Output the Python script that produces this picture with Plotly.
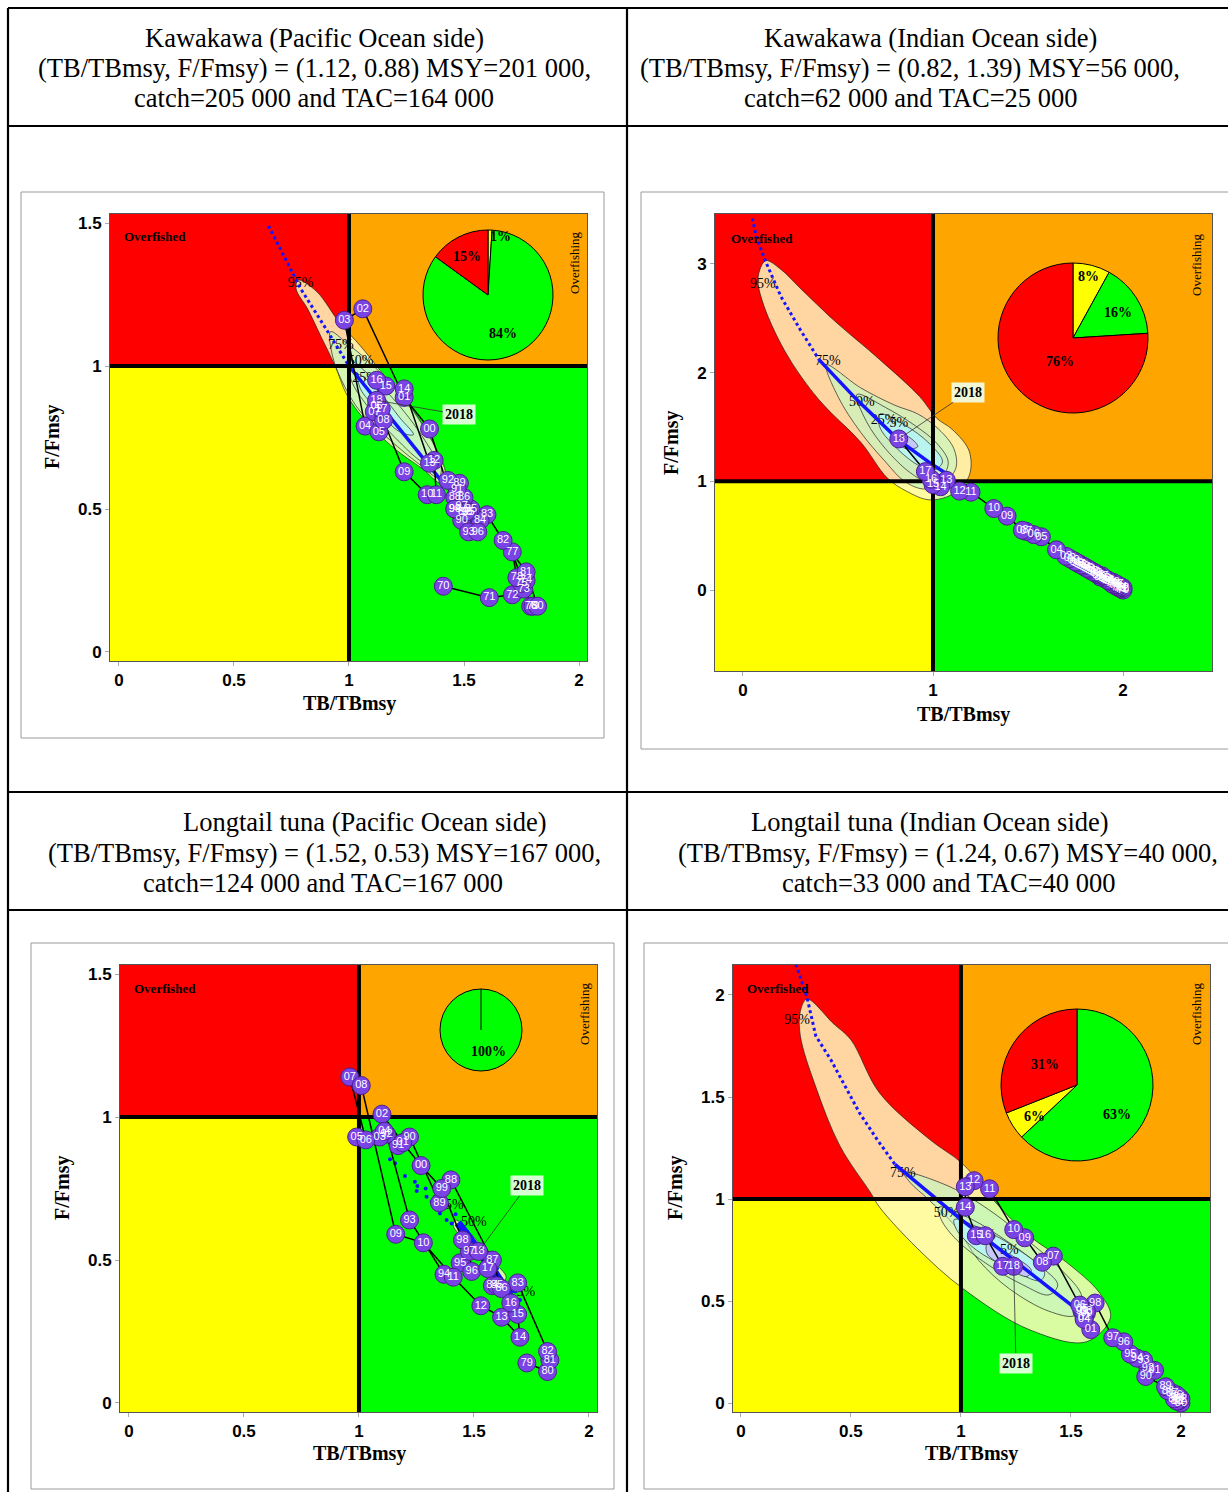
import plotly.graph_objects as go

W, H = 1228, 1492

# ---------------------------------------------------------------- data
# Kawakawa, Pacific Ocean side
P1_TITLE = ["Kawakawa (Pacific Ocean side)",
            "(TB/TBmsy, F/Fmsy) = (1.12, 0.88) MSY=201 000,",
            "catch=205 000 and TAC=164 000"]
P1_YEARS = list(range(1970, 2019))
P1_TB = [1.41, 1.61, 1.71, 1.76, 1.77, 1.75, 1.79, 1.71, 1.73, 1.80,
         1.82, 1.77, 1.67, 1.60, 1.57, 1.53, 1.50, 1.50, 1.46, 1.48,
         1.49, 1.47, 1.43, 1.52, 1.46, 1.52, 1.56, 1.49, 1.51, 1.46,
         1.35, 1.24, 1.06, 0.98, 1.07, 1.13, 1.12, 1.11, 1.15, 1.24,
         1.34, 1.38, 1.37, 1.35, 1.24, 1.16, 1.12, 1.14, 1.12]
P1_F = [0.23, 0.19, 0.20, 0.22, 0.25, 0.24, 0.16, 0.35, 0.26, 0.16,
        0.16, 0.28, 0.39, 0.48, 0.46, 0.50, 0.54, 0.49, 0.54, 0.59,
        0.46, 0.57, 0.60, 0.42, 0.50, 0.49, 0.42, 0.51, 0.49, 0.50,
        0.78, 0.89, 1.20, 1.16, 0.79, 0.77, 0.86, 0.84, 0.81, 0.63,
        0.55, 0.55, 0.67, 0.66, 0.92, 0.93, 0.95, 0.85, 0.88]
P1_PROJ_DOT = [(0.65, 1.49), (0.72, 1.38), (0.79, 1.27), (0.90, 1.13), (1.00, 1.00)]
P1_PROJ_LINE = [(1.00, 1.00), (1.20, 0.80), (1.40, 0.60)]
P1_PIE = [1, 84, 15]
P1_C95 = [(0.78, 1.30), (0.86, 1.26), (0.96, 1.15), (1.05, 1.07), (1.13, 0.99), (1.25, 0.87),
          (1.36, 0.74), (1.42, 0.62), (1.40, 0.59), (1.32, 0.64), (1.20, 0.71), (1.06, 0.82),
          (0.99, 0.90), (0.94, 1.00), (0.88, 1.10), (0.82, 1.20), (0.77, 1.27)]
P1_C75 = [(0.92, 1.12), (0.99, 1.08), (1.08, 1.02), (1.18, 0.94), (1.30, 0.82), (1.40, 0.66),
          (1.39, 0.61), (1.30, 0.66), (1.18, 0.74), (1.05, 0.84), (0.98, 0.93), (0.93, 1.03)]
P1_C50 = [(1.00, 1.02), (1.10, 0.96), (1.22, 0.86), (1.33, 0.74), (1.38, 0.66), (1.33, 0.66),
          (1.20, 0.75), (1.08, 0.86), (1.01, 0.95)]
P1_C25 = [(1.04, 0.97), (1.12, 0.92), (1.22, 0.82), (1.28, 0.76), (1.22, 0.77), (1.12, 0.85),
          (1.05, 0.92)]
P1_C05 = [(1.10, 0.90), (1.16, 0.86), (1.14, 0.84), (1.09, 0.88)]
P1_CLAB = [("95%", 0.79, 1.29), ("75%", 0.965, 1.07), ("50%", 1.05, 1.015), ("25%", 1.07, 0.958)]

# Kawakawa, Indian Ocean side
P2_TITLE = ["Kawakawa (Indian Ocean side)",
            "(TB/TBmsy, F/Fmsy) = (0.82, 1.39) MSY=56 000,",
            "catch=62 000 and TAC=25 000"]
P2_YEARS = list(range(1970, 2019))
P2_TB = [2.00, 1.99, 2.00, 1.98, 1.99, 1.97, 1.96, 1.97, 1.95, 1.94,
         1.95, 1.93, 1.92, 1.91, 1.92, 1.90, 1.88, 1.89, 1.87, 1.86,
         1.85, 1.83, 1.84, 1.82, 1.80, 1.81, 1.79, 1.77, 1.78, 1.76,
         1.74, 1.75, 1.72, 1.70, 1.65, 1.57, 1.53, 1.49, 1.47, 1.39,
         1.32, 1.20, 1.14, 1.07, 1.04, 1.00, 0.99, 0.96, 0.82]
P2_F = [0.00, 0.01, 0.02, 0.02, 0.03, 0.03, 0.04, 0.05, 0.05, 0.06,
        0.07, 0.08, 0.09, 0.10, 0.09, 0.11, 0.12, 0.13, 0.14, 0.15,
        0.16, 0.18, 0.17, 0.19, 0.21, 0.20, 0.22, 0.24, 0.23, 0.25,
        0.27, 0.26, 0.29, 0.31, 0.37, 0.49, 0.51, 0.54, 0.55, 0.68,
        0.75, 0.90, 0.91, 1.01, 0.95, 0.97, 1.02, 1.09, 1.39]
P2_PROJ_DOT = [(0.05, 3.42), (0.07, 3.25), (0.12, 3.02), (0.20, 2.70), (0.30, 2.40), (0.40, 2.12)]
P2_PROJ_LINE = [(0.40, 2.12), (0.60, 1.75), (0.82, 1.38), (1.00, 1.15), (1.09, 1.05)]
P2_PIE = [8, 16, 76]
P2_C95 = [(0.12, 3.03), (0.20, 2.95), (0.30, 2.78), (0.48, 2.48), (0.72, 2.12), (0.93, 1.78),
          (1.02, 1.58), (1.10, 1.48), (1.19, 1.28), (1.19, 1.05), (1.10, 0.88), (0.98, 0.83),
          (0.86, 0.91), (0.76, 1.03), (0.62, 1.36), (0.40, 1.75), (0.22, 2.20), (0.10, 2.67),
          (0.08, 2.88)]
P2_C75 = [(0.44, 2.07), (0.62, 1.86), (0.80, 1.70), (0.92, 1.62), (1.03, 1.48), (1.11, 1.30),
          (1.12, 1.12), (1.05, 0.98), (0.95, 0.93), (0.85, 1.00), (0.75, 1.18), (0.62, 1.45),
          (0.50, 1.78)]
P2_C50 = [(0.60, 1.80), (0.75, 1.68), (0.90, 1.52), (1.02, 1.35), (1.08, 1.18), (1.05, 1.05),
          (0.97, 1.00), (0.88, 1.08), (0.75, 1.30), (0.65, 1.55)]
P2_C25 = [(0.72, 1.62), (0.85, 1.52), (0.98, 1.35), (1.05, 1.18), (1.00, 1.10), (0.92, 1.15),
          (0.80, 1.32), (0.72, 1.50)]
P2_C05 = [(0.80, 1.45), (0.88, 1.40), (0.92, 1.32), (0.86, 1.30), (0.80, 1.38)]
P2_CLAB = [("95%", 0.105, 2.815), ("75%", 0.447, 2.10), ("50%", 0.626, 1.73),
           ("25%", 0.74, 1.56), ("5%", 0.82, 1.53)]

# Longtail tuna, Pacific Ocean side
P3_TITLE = ["Longtail tuna (Pacific Ocean side)",
            "(TB/TBmsy, F/Fmsy) = (1.52, 0.53) MSY=167 000,",
            "catch=124 000 and TAC=167 000"]
P3_YEARS = list(range(1979, 2019))
P3_TB = [1.73, 1.82, 1.83, 1.82, 1.69, 1.58, 1.60, 1.62, 1.58, 1.40,
         1.35, 1.22, 1.17, 1.12, 1.22, 1.37, 1.44, 1.49, 1.48, 1.45,
         1.36, 1.27, 1.19, 1.10, 1.09, 1.11, 0.99, 1.03, 0.96, 1.01,
         1.16, 1.28, 1.41, 1.53, 1.62, 1.70, 1.69, 1.66, 1.56, 1.52]
P3_F = [0.14, 0.11, 0.15, 0.18, 0.42, 0.41, 0.41, 0.40, 0.50, 0.78,
        0.70, 0.93, 0.90, 0.94, 0.64, 0.45, 0.49, 0.46, 0.53, 0.57,
        0.75, 0.83, 0.91, 1.01, 0.93, 0.95, 0.93, 0.92, 1.14, 1.11,
        0.59, 0.56, 0.44, 0.34, 0.30, 0.23, 0.31, 0.35, 0.47, 0.53]
P3_PROJ_PTS_TB = [1.135, 1.157, 1.20, 1.243, 1.254, 1.251, 1.294, 1.316, 1.338, 1.352,
                  1.381, 1.403, 1.42, 1.47, 1.53, 1.60, 1.68, 1.70, 1.29, 1.33]
P3_PROJ_PTS_F = [0.852, 0.838, 0.794, 0.774, 0.759, 0.741, 0.721, 0.704, 0.681, 0.663,
                 0.640, 0.628, 0.66, 0.60, 0.52, 0.47, 0.39, 0.36, 0.75, 0.72]
P3_PROJ_LINE = [(1.43, 0.63), (1.50, 0.56), (1.56, 0.49), (1.62, 0.42), (1.66, 0.38)]
P3_PIE = [100]
P3_C95 = [(1.42, 0.64), (1.50, 0.58), (1.58, 0.50), (1.64, 0.44), (1.62, 0.42), (1.55, 0.48),
          (1.47, 0.56), (1.41, 0.62)]
P3_C75 = [(1.46, 0.60), (1.54, 0.53), (1.61, 0.45), (1.58, 0.46), (1.51, 0.53), (1.45, 0.59)]
P3_CLAB = [("75%", 1.40, 0.69), ("50%", 1.50, 0.63), ("25%", 1.71, 0.385)]

# Longtail tuna, Indian Ocean side
P4_TITLE = ["Longtail tuna (Indian Ocean side)",
            "(TB/TBmsy, F/Fmsy) = (1.24, 0.67) MSY=40 000,",
            "catch=33 000 and TAC=40 000"]
P4_YEARS = list(range(1980, 2019))
P4_TB = [2.00, 1.99, 2.00, 1.98, 1.99, 1.97, 1.98, 1.96, 1.94, 1.93,
         1.84, 1.88, 1.85, 1.83, 1.80, 1.77, 1.74, 1.69, 1.61, 1.55,
         1.57, 1.59, 1.56, 1.57, 1.56, 1.55, 1.54, 1.42, 1.37, 1.29,
         1.24, 1.13, 1.06, 1.02, 1.02, 1.07, 1.11, 1.19, 1.24]
P4_F = [0.00, 0.01, 0.02, 0.01, 0.03, 0.02, 0.04, 0.05, 0.06, 0.08,
        0.13, 0.16, 0.17, 0.21, 0.22, 0.24, 0.30, 0.32, 0.49, 0.45,
        0.44, 0.36, 0.42, 0.45, 0.41, 0.46, 0.48, 0.72, 0.69, 0.81,
        0.85, 1.05, 1.09, 1.06, 0.96, 0.82, 0.82, 0.67, 0.67]
P4_PROJ_DOT = [(0.25, 2.15), (0.30, 1.99), (0.34, 1.80), (0.41, 1.68), (0.46, 1.58),
               (0.54, 1.42), (0.62, 1.29), (0.70, 1.17)]
P4_PROJ_LINE = [(0.70, 1.17), (1.00, 0.90), (1.30, 0.65), (1.55, 0.44)]
P4_PIE = [63, 6, 31]
P4_C95 = [(0.30, 1.98), (0.42, 1.86), (0.50, 1.78), (0.63, 1.52), (0.86, 1.29), (1.00, 1.18),
          (1.10, 1.06), (1.16, 0.98), (1.31, 0.82), (1.48, 0.69), (1.63, 0.54), (1.68, 0.42),
          (1.57, 0.30), (1.31, 0.36), (1.01, 0.56), (0.80, 0.76), (0.63, 0.96), (0.59, 1.03),
          (0.45, 1.26), (0.34, 1.55), (0.27, 1.80), (0.27, 1.92)]
P4_C75 = [(0.74, 1.13), (0.95, 1.06), (1.15, 0.93), (1.30, 0.80), (1.45, 0.66), (1.55, 0.52),
          (1.52, 0.43), (1.40, 0.45), (1.22, 0.56), (1.08, 0.70), (0.98, 0.86), (0.85, 1.00),
          (0.77, 1.08)]
P4_C50 = [(0.90, 0.96), (1.05, 0.90), (1.20, 0.80), (1.35, 0.68), (1.44, 0.58), (1.40, 0.53),
          (1.28, 0.58), (1.12, 0.68), (0.98, 0.80), (0.91, 0.90)]
P4_C25 = [(0.97, 0.90), (1.10, 0.85), (1.25, 0.76), (1.38, 0.64), (1.36, 0.60), (1.22, 0.66),
          (1.07, 0.75), (0.98, 0.85)]
P4_C05 = [(1.12, 0.78), (1.22, 0.73), (1.32, 0.65), (1.30, 0.62), (1.20, 0.67), (1.12, 0.73)]
P4_CLAB = [("95%", 0.255, 1.877), ("75%", 0.736, 1.127), ("50%", 0.935, 0.93),
           ("25%", 1.10, 0.82), ("5%", 1.22, 0.75)]

TICK_HALF = ["0", "0.5", "1", "1.5", "2"]

# ---------------------------------------------------------------- styles
RED, ORANGE, YELLOW, GREEN = "#FF0000", "#FFA500", "#FFFF00", "#00FF00"
LEVEL_FILL = {95: "rgba(255,250,190,0.85)", 75: "rgba(200,245,190,0.70)",
              50: "rgba(195,240,205,0.45)", 25: "rgba(180,245,250,0.80)",
              5: "rgba(200,195,250,0.90)"}
SERIF = "Liberation Serif, Times New Roman, serif"
NARROW = "Liberation Sans Narrow, Arial Narrow, Liberation Sans, Arial, sans-serif"
BLUE = "#1414FF"
PURPLE = "#7A44E4"

PANELS = [
    dict(title=P1_TITLE, title_x=[314, 314, 314], title_y=[38, 68, 98],
         box=(21, 192, 604, 738), plot=(110, 214, 587, 661),
         xr=(-0.0391, 2.0348), yr=(-0.0315, 1.5315),
         xt=[0, 0.5, 1, 1.5, 2], xtt=TICK_HALF, yt=[0, 0.5, 1, 1.5], ytt=TICK_HALF[:4],
         years=P1_YEARS, tb=P1_TB, f=P1_F, dots=P1_PROJ_DOT, line=P1_PROJ_LINE, band=3.5,
         scat=None,
         contours=[(95, P1_C95), (75, P1_C75), (50, P1_C50), (25, P1_C25), (5, P1_C05)],
         clab=P1_CLAB, pie=P1_PIE, pie_colors=[YELLOW, GREEN, RED], pie_c=(488, 295), pie_r=65,
         pie_lab=[(500, 237), (503, 333), (467, 257)], lab2018=(1.48, 0.83),
         xtitle=(349, 703), ytitle=(52, 437), ofd=(155, 237), ofg=(574, 263)),
    dict(title=P2_TITLE, title_x=[930, 910, 910], title_y=[38, 68, 98],
         box=(641, 192, 1245, 749), plot=(715, 214, 1212, 671),
         xr=(-0.147, 2.468), yr=(-0.745, 3.46),
         xt=[0, 1, 2], xtt=["0", "1", "2"], yt=[0, 1, 2, 3], ytt=["0", "1", "2", "3"],
         years=P2_YEARS, tb=P2_TB, f=P2_F, dots=P2_PROJ_DOT, line=P2_PROJ_LINE, band=3.5,
         scat=None,
         contours=[(95, P2_C95), (75, P2_C75), (50, P2_C50), (25, P2_C25), (5, P2_C05)],
         clab=P2_CLAB, pie=P2_PIE, pie_colors=[YELLOW, GREEN, RED], pie_c=(1073, 338), pie_r=75,
         pie_lab=[(1088, 277), (1118, 313), (1060, 361)], lab2018=(1.184, 1.82),
         xtitle=(963, 714), ytitle=(672, 443), ofd=(762, 238), ofg=(1197, 265)),
    dict(title=P3_TITLE, title_x=[365, 324, 323], title_y=[822, 853, 883],
         box=(31, 943, 614, 1489), plot=(120, 965, 597, 1412),
         xr=(-0.039, 2.035), yr=(-0.0315, 1.5315),
         xt=[0, 0.5, 1, 1.5, 2], xtt=TICK_HALF, yt=[0, 0.5, 1, 1.5], ytt=TICK_HALF[:4],
         years=P3_YEARS, tb=P3_TB, f=P3_F, dots=None, line=P3_PROJ_LINE, band=8,
         scat=(P3_PROJ_PTS_TB, P3_PROJ_PTS_F),
         contours=[(95, P3_C95), (75, P3_C75)],
         clab=P3_CLAB, pie=P3_PIE, pie_colors=[GREEN], pie_c=(481, 1030), pie_r=41,
         pie_lab=[(488, 1051)], lab2018=(1.73, 0.759),
         xtitle=(359, 1453), ytitle=(62, 1188), ofd=(165, 988), ofg=(584, 1014)),
    dict(title=P4_TITLE, title_x=[930, 948, 948], title_y=[822, 853, 883],
         box=(644, 943, 1245, 1489), plot=(733, 965, 1210, 1412),
         xr=(-0.036, 2.132), yr=(-0.044, 2.147),
         xt=[0, 0.5, 1, 1.5, 2], xtt=TICK_HALF, yt=[0, 0.5, 1, 1.5, 2], ytt=TICK_HALF,
         years=P4_YEARS, tb=P4_TB, f=P4_F, dots=P4_PROJ_DOT, line=P4_PROJ_LINE, band=3.5,
         scat=None,
         contours=[(95, P4_C95), (75, P4_C75), (50, P4_C50), (25, P4_C25), (5, P4_C05)],
         clab=P4_CLAB, pie=P4_PIE, pie_colors=[GREEN, YELLOW, RED], pie_c=(1077, 1085), pie_r=76,
         pie_lab=[(1117, 1114), (1034, 1116), (1045, 1064)], lab2018=(1.25, 0.196),
         xtitle=(971, 1453), ytitle=(675, 1188), ofd=(778, 988), ofg=(1196, 1014)),
]

# table rules (pixel coordinates)
TABLE_RULES = [(8, 8, 1240, 8), (8, 126, 1240, 126), (8, 792, 1240, 792), (8, 910, 1240, 910),
               (8, 8, 8, 1500), (627, 8, 627, 1500)]


def px(x):
    return x / W


def py(y):
    return 1 - y / H


def note(x, y, text, size, angle=0, family=SERIF):
    """Centred text placed by pixel position on the page."""
    return dict(xref="paper", yref="paper", x=px(x), y=py(y), text=text, showarrow=False,
                xanchor="center", yanchor="middle", textangle=angle,
                font=dict(family=family, size=size, color="black"))


fig = go.Figure()
layout = dict(width=W, height=H, margin=dict(l=0, r=0, t=0, b=0),
              paper_bgcolor="white", plot_bgcolor="white", showlegend=False)
shapes, annotations = [], []

for x0, y0, x1, y1 in TABLE_RULES:
    shapes.append(dict(type="line", xref="paper", yref="paper", x0=px(x0), y0=py(y0),
                       x1=px(x1), y1=py(y1), line=dict(color="black", width=2.2)))

for i, p in enumerate(PANELS):
    n = "" if i == 0 else str(i + 1)
    xa, ya = "x" + n, "y" + n
    L, T, R, B = p["plot"]
    xr, yr = p["xr"], p["yr"]

    # titles
    for txt, tx, ty in zip(p["title"], p["title_x"], p["title_y"]):
        annotations.append(note(tx, ty, txt, 26.5))
    # outer grey frame
    bx0, by0, bx1, by1 = p["box"]
    shapes.append(dict(type="rect", xref="paper", yref="paper", x0=px(bx0), y0=py(by1),
                       x1=px(bx1), y1=py(by0), line=dict(color="#9a9a9a", width=1),
                       fillcolor="rgba(0,0,0,0)", layer="below"))

    axis_common = dict(showgrid=False, zeroline=False, showline=True, mirror=True,
                       linecolor="#555", linewidth=1, ticks="outside", ticklen=4,
                       tickcolor="#aaa",
                       tickfont=dict(family=NARROW, size=17, color="black", weight="bold"))
    layout["xaxis" + n] = dict(domain=[px(L), px(R)], range=list(xr), anchor=ya,
                               tickvals=p["xt"], ticktext=p["xtt"], **axis_common)
    layout["yaxis" + n] = dict(domain=[py(B), py(T)], range=list(yr), anchor=xa,
                               tickvals=p["yt"], ticktext=p["ytt"], **axis_common)

    # Kobe quadrants
    for qx0, qx1, qy0, qy1, col in [(xr[0], 1, 1, yr[1], RED), (1, xr[1], 1, yr[1], ORANGE),
                                    (xr[0], 1, yr[0], 1, YELLOW), (1, xr[1], yr[0], 1, GREEN)]:
        shapes.append(dict(type="rect", xref=xa, yref=ya, x0=qx0, x1=qx1, y0=qy0, y1=qy1,
                           fillcolor=col, line=dict(width=0), layer="below"))

    # confidence regions
    for lev, pts in p["contours"]:
        cx = [q[0] for q in pts] + [pts[0][0]]
        cy = [q[1] for q in pts] + [pts[0][1]]
        fig.add_trace(go.Scatter(x=cx, y=cy, mode="lines", fill="toself",
                                 fillcolor=LEVEL_FILL[lev],
                                 line=dict(color="rgba(30,30,30,0.85)", width=0.8,
                                           shape="spline", smoothing=1.0),
                                 xaxis=xa, yaxis=ya, hoverinfo="skip"))
    fig.add_trace(go.Scatter(x=[c[1] for c in p["clab"]], y=[c[2] for c in p["clab"]],
                             text=[c[0] for c in p["clab"]], mode="text",
                             textfont=dict(family=SERIF, size=14, color="black"),
                             xaxis=xa, yaxis=ya, hoverinfo="skip"))

    # projection path
    if p["dots"]:
        fig.add_trace(go.Scatter(x=[q[0] for q in p["dots"]], y=[q[1] for q in p["dots"]],
                                 mode="lines", line=dict(color=BLUE, width=3, dash="dot"),
                                 xaxis=xa, yaxis=ya, hoverinfo="skip"))
    if p["scat"]:
        fig.add_trace(go.Scatter(x=p["scat"][0], y=p["scat"][1], mode="markers",
                                 marker=dict(color=BLUE, size=4),
                                 xaxis=xa, yaxis=ya, hoverinfo="skip"))
    fig.add_trace(go.Scatter(x=[q[0] for q in p["line"]], y=[q[1] for q in p["line"]],
                             mode="lines", line=dict(color=BLUE, width=p["band"]),
                             xaxis=xa, yaxis=ya, hoverinfo="skip"))

    # reference lines at 1
    fig.add_trace(go.Scatter(x=[1, 1], y=list(yr), mode="lines",
                             line=dict(color="black", width=4), xaxis=xa, yaxis=ya,
                             hoverinfo="skip"))
    fig.add_trace(go.Scatter(x=list(xr), y=[1, 1], mode="lines",
                             line=dict(color="black", width=4), xaxis=xa, yaxis=ya,
                             hoverinfo="skip"))

    # stock trajectory
    fig.add_trace(go.Scatter(x=p["tb"], y=p["f"], mode="lines+markers+text",
                             line=dict(color="black", width=1.5),
                             marker=dict(size=18, color=PURPLE,
                                         line=dict(color="#4a2090", width=1)),
                             text=[f"{y % 100:02d}" for y in p["years"]],
                             textposition="middle center",
                             textfont=dict(family=NARROW, size=11, color="white"),
                             xaxis=xa, yaxis=ya, hoverinfo="skip"))

    # 2018 call-out
    annotations.append(dict(xref=xa, yref=ya, x=p["tb"][-1], y=p["f"][-1],
                            axref=xa, ayref=ya, ax=p["lab2018"][0], ay=p["lab2018"][1],
                            text="<b>2018</b>", showarrow=True, arrowhead=0, arrowwidth=0.8,
                            arrowcolor="#333", standoff=0, borderpad=2,
                            bgcolor="rgba(240,255,235,0.9)",
                            font=dict(family=SERIF, size=14, color="black")))

    # quadrant captions
    annotations.append(note(p["ofd"][0], p["ofd"][1], "<b>Overfished</b>", 13))
    annotations.append(note(p["ofg"][0], p["ofg"][1], "Overfishing", 13, angle=-90))

    # axis titles
    annotations.append(note(p["xtitle"][0], p["xtitle"][1], "<b>TB/TBmsy</b>", 20))
    annotations.append(note(p["ytitle"][0], p["ytitle"][1], "<b>F/Fmsy</b>", 20, angle=-90))

    # status pie
    cxp, cyp = p["pie_c"]
    r = p["pie_r"]
    fig.add_trace(go.Pie(values=p["pie"], marker=dict(colors=p["pie_colors"],
                                                      line=dict(color="black", width=1)),
                         sort=False, direction="clockwise", rotation=0, textinfo="none",
                         hoverinfo="skip",
                         domain=dict(x=[px(cxp - r), px(cxp + r)], y=[py(cyp + r), py(cyp - r)])))
    if len(p["pie"]) == 1:
        shapes.append(dict(type="line", xref="paper", yref="paper", x0=px(cxp), y0=py(cyp),
                           x1=px(cxp), y1=py(cyp - r), line=dict(color="black", width=1),
                           layer="above"))
    for v, (lx, ly) in zip(p["pie"], p["pie_lab"]):
        annotations.append(note(lx, ly, f"<b>{v}%</b>", 14))

layout["shapes"] = shapes
layout["annotations"] = annotations
fig.update_layout(**layout)
fig.write_html("out.html")
